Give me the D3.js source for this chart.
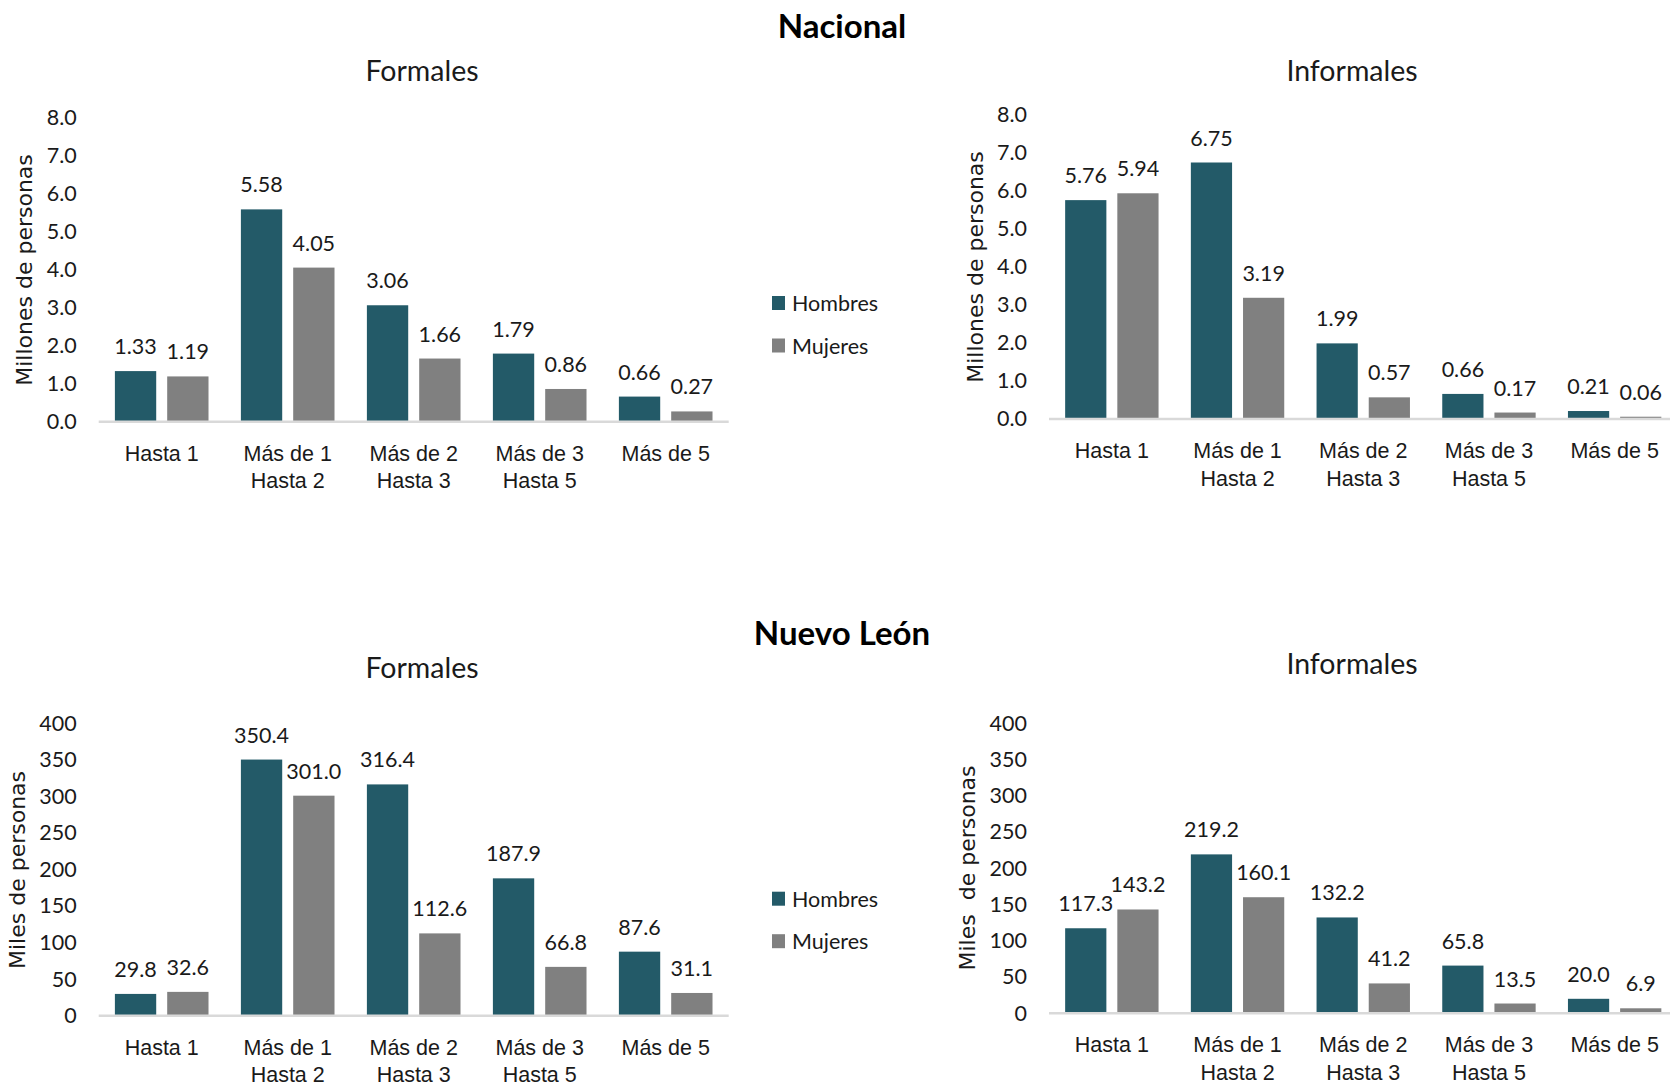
<!DOCTYPE html>
<html>
<head>
<meta charset="utf-8">
<script src="https://cdn.jsdelivr.net/npm/d3@7"></script>
<style>
  body { margin: 0; background: #fff; }
  svg { display: block; font-family: Lato, "Open Sans", sans-serif; }
</style>
</head>
<body>
<svg id="chart" width="1670" height="1086"></svg>
<script>
// categorias y series
const categories = [["Hasta 1"], ["Más de 1", "Hasta 2"], ["Más de 2", "Hasta 3"], ["Más de 3", "Hasta 5"], ["Más de 5"]]
const series = ["Hombres", "Mujeres"]

// Nacional (millones)
const nacFormHombres = [1.33, 5.58, 3.06, 1.79, 0.66]
const nacFormMujeres = [1.19, 4.05, 1.66, 0.86, 0.27]
const nacInfHombres = [5.76, 6.75, 1.99, 0.66, 0.21]
const nacInfMujeres = [5.94, 3.19, 0.57, 0.17, 0.06]

// Nuevo León (miles)
const nlFormHombres = [29.8, 350.4, 316.4, 187.9, 87.6]
const nlFormMujeres = [32.6, 301.0, 112.6, 66.8, 31.1]
const nlInfHombres = [117.3, 219.2, 132.2, 65.8, 20.0]
const nlInfMujeres = [143.2, 160.1, 41.2, 13.5, 6.9]

const nacTicks = [0, 1, 2, 3, 4, 5, 6, 7, 8]
const nlTicks = [0, 50, 100, 150, 200, 250, 300, 350, 400]

const colors = { "Hombres": "#235a68", "Mujeres": "#808080" }

const svg = d3.select("#chart")

function drawPanel(p) {
    const y = d3.scaleLinear().domain([0, p.max]).range([p.y0, p.yTop])
    const x0 = d3.scaleBand().domain(d3.range(categories.length))
        .range([p.xLeft, p.xLeft + p.step * categories.length])
        .paddingInner(0.257).paddingOuter(0.1285)
    const x1 = d3.scaleBand().domain(series).range([0, x0.bandwidth()]).paddingInner(0.21)

    const g = svg.append("g")

    // titulo del panel
    g.append("text")
        .attr("x", p.titleX).attr("y", p.titleY)
        .attr("text-anchor", "middle").attr("dominant-baseline", "central")
        .style("font-size", "28.5px").style("fill", "#1a1a1a")
        .text(p.title)

    // eje y (solo etiquetas)
    const yAxis = g.append("g")
        .attr("transform", `translate(${p.xLeft - 22},0)`)
        .call(d3.axisLeft(y).tickValues(p.ticks).tickSize(0).tickPadding(0).tickFormat(p.fmt))
    yAxis.select(".domain").remove()
    yAxis.selectAll("text")
        .style("font-family", "Lato, sans-serif").style("font-size", "21.5px").style("fill", "#1a1a1a")

    // titulo eje y
    g.append("text")
        .attr("transform", `translate(${p.ylabX},${p.ylabY}) rotate(-90)`)
        .attr("text-anchor", "middle").attr("dominant-baseline", "central")
        .attr("xml:space", "preserve").style("white-space", "pre")
        .style("font-family", "'DejaVu Sans', sans-serif").style("font-size", "22px").style("fill", "#1a1a1a")
        .text(p.ylab)

    // barras
    const rows = p.values[0].map((v, i) => ({ i, vals: series.map((s, j) => ({ s, v: p.values[j][i] })) }))
    const groups = g.selectAll("g.grp").data(rows).join("g")
        .attr("class", "grp")
        .attr("transform", d => `translate(${x0(d.i)},0)`)

    groups.selectAll("rect").data(d => d.vals).join("rect")
        .attr("x", d => x1(d.s))
        .attr("width", x1.bandwidth())
        .attr("y", d => y(d.v))
        .attr("height", d => y(0) - y(d.v))
        .attr("fill", d => colors[d.s])

    groups.selectAll("text.val").data(d => d.vals).join("text")
        .attr("class", "val")
        .attr("x", d => x1(d.s) + x1.bandwidth() / 2)
        .attr("y", d => y(d.v) - 25)
        .attr("text-anchor", "middle").attr("dominant-baseline", "central")
        .style("font-size", "21.5px").style("fill", "#1a1a1a")
        .text(d => d3.format(p.valFmt)(d.v))

    // eje x
    const xAxis = g.append("g")
        .attr("transform", `translate(0,${y(0)})`)
        .call(d3.axisBottom(x0).tickSize(0).tickSizeOuter(0).tickFormat(""))
    xAxis.select(".domain")
        .attr("d", `M${p.xLeft},0H${p.xLeft + p.step * categories.length}`)
        .style("stroke", "#d9d9d9").style("stroke-width", 2.5)
    xAxis.selectAll(".tick text").remove()
    xAxis.selectAll(".tick").append("text")
        .attr("text-anchor", "middle")
        .style("font-size", "21.5px").style("fill", "#1a1a1a")
        .selectAll("tspan").data(i => categories[i]).join("tspan")
        .attr("x", 0)
        .attr("y", (d, k) => 32 + k * 27.5)
        .attr("dominant-baseline", "central")
        .text(d => d)

    // leyenda
    if (p.legendY) {
        series.forEach((s, j) => {
            const ly = p.legendY + j * 42.5
            g.append("rect").attr("x", 772).attr("y", ly - 7).attr("width", 13).attr("height", 14).attr("fill", colors[s])
            g.append("text").attr("x", 792).attr("y", ly)
                .attr("dominant-baseline", "central")
                .style("font-size", "21.5px").style("fill", "#1a1a1a")
                .text(s)
        })
    }
}

// titulos generales
svg.append("text").attr("x", 842).attr("y", 25)
    .attr("text-anchor", "middle").attr("dominant-baseline", "central")
    .style("font-size", "33px").style("font-weight", "bold").style("fill", "#000")
    .text("Nacional")
svg.append("text").attr("x", 842).attr("y", 632)
    .attr("text-anchor", "middle").attr("dominant-baseline", "central")
    .style("font-size", "33px").style("font-weight", "bold").style("fill", "#000")
    .text("Nuevo León")

const fmt1 = d3.format(".1f")
const fmt0 = d3.format("d")

drawPanel({ title: "Formales", titleX: 422, titleY: 70, max: 8, y0: 421.7, yTop: 117.3, xLeft: 98.7, step: 126,
    ticks: nacTicks, fmt: fmt1, valFmt: ".2f", values: [nacFormHombres, nacFormMujeres],
    ylab: "Millones de personas", ylabX: 24, ylabY: 270, legendY: 303 })
drawPanel({ title: "Informales", titleX: 1352, titleY: 70, max: 8, y0: 419, yTop: 115, xLeft: 1049, step: 125.7,
    ticks: nacTicks, fmt: fmt1, valFmt: ".2f", values: [nacInfHombres, nacInfMujeres],
    ylab: "Millones de personas", ylabX: 975.5, ylabY: 267 })
drawPanel({ title: "Formales", titleX: 422, titleY: 667, max: 400, y0: 1015.7, yTop: 723.3, xLeft: 98.7, step: 126,
    ticks: nlTicks, fmt: fmt0, valFmt: ".1f", values: [nlFormHombres, nlFormMujeres],
    ylab: "Miles de personas", ylabX: 17, ylabY: 870, legendY: 898.7 })
drawPanel({ title: "Informales", titleX: 1352, titleY: 663.3, max: 400, y0: 1013.3, yTop: 723.3, xLeft: 1049, step: 125.7,
    ticks: nlTicks, fmt: fmt0, valFmt: ".1f", values: [nlInfHombres, nlInfMujeres],
    ylab: "Miles  de personas", ylabX: 967.7, ylabY: 868 })
</script>
</body>
</html>
